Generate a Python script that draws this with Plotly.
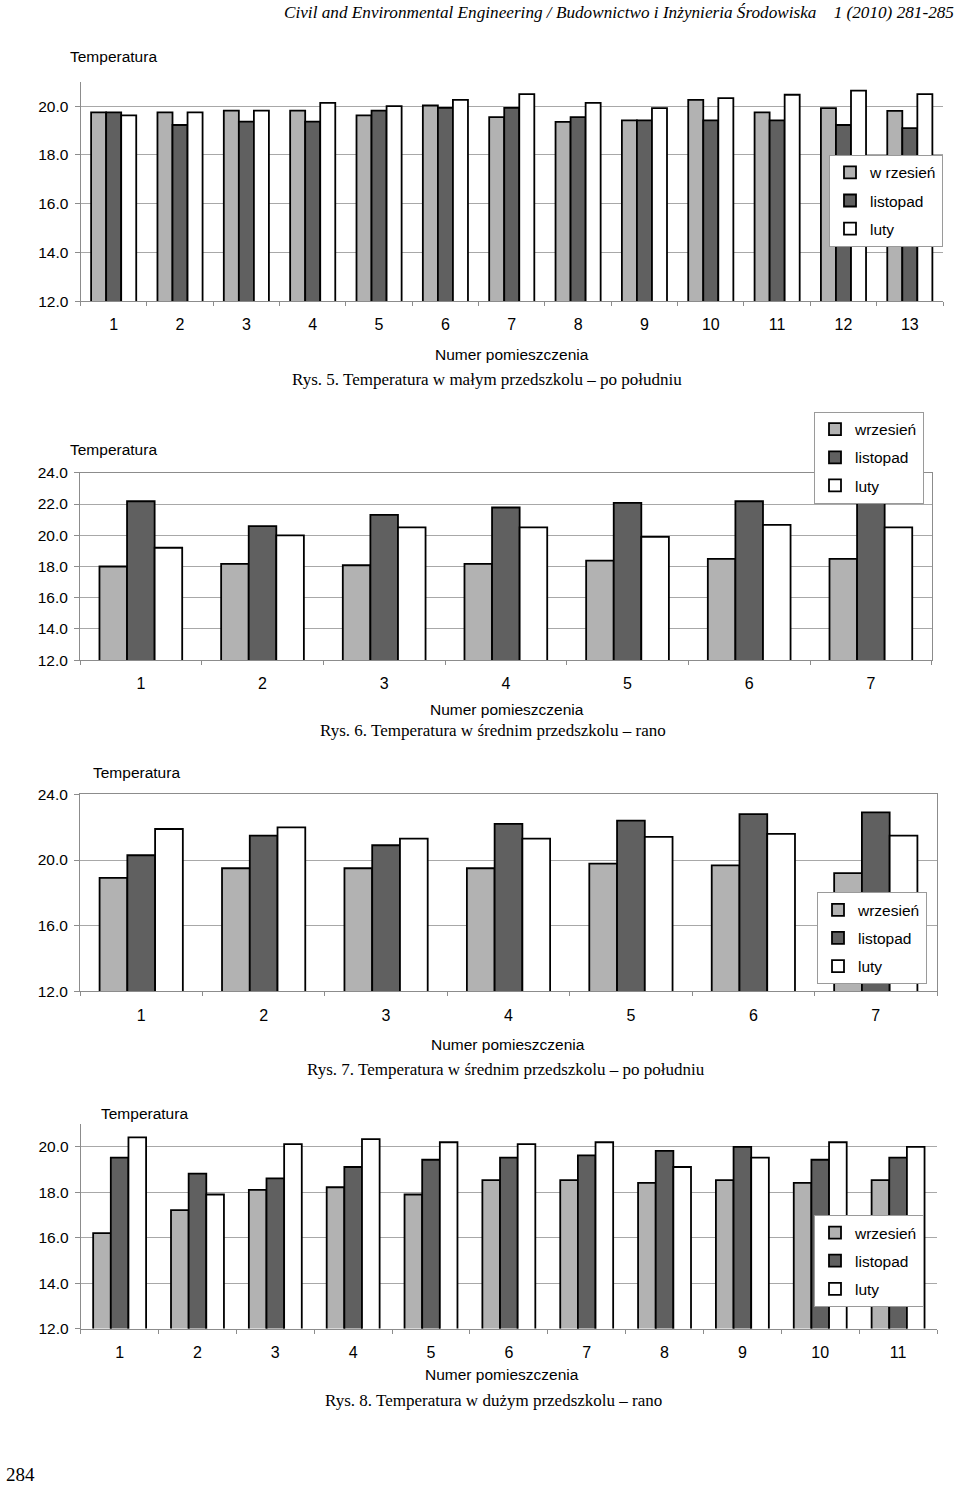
import plotly.graph_objects as go

W, H = 960, 1486

# ---------------- data ----------------
series_names_1 = ["w rzesień", "listopad", "luty"]
series_names = ["wrzesień", "listopad", "luty"]

rooms_5 = ["1", "2", "3", "4", "5", "6", "7", "8", "9", "10", "11", "12", "13"]
rys5_wrzesien = [19.75, 19.75, 19.82, 19.82, 19.62, 20.03, 19.55, 19.36, 19.42, 20.26, 19.75, 19.92, 19.81]
rys5_listopad = [19.75, 19.23, 19.37, 19.37, 19.82, 19.93, 19.93, 19.55, 19.42, 19.42, 19.42, 19.23, 19.10]
rys5_luty     = [19.62, 19.75, 19.82, 20.14, 20.00, 20.26, 20.50, 20.14, 19.92, 20.33, 20.47, 20.64, 20.50]

rooms_6 = ["1", "2", "3", "4", "5", "6", "7"]
rys6_wrzesien = [18.0, 18.17, 18.08, 18.17, 18.38, 18.49, 18.49]
rys6_listopad = [22.18, 20.58, 21.31, 21.78, 22.08, 22.18, 22.4]
rys6_luty     = [19.2, 19.99, 20.5, 20.5, 19.9, 20.67, 20.5]

rooms_7 = ["1", "2", "3", "4", "5", "6", "7"]
rys7_wrzesien = [18.91, 19.5, 19.5, 19.5, 19.78, 19.68, 19.2]
rys7_listopad = [20.29, 21.49, 20.9, 22.2, 22.4, 22.8, 22.9]
rys7_luty     = [21.89, 21.99, 21.3, 21.3, 21.41, 21.59, 21.49]

rooms_8 = ["1", "2", "3", "4", "5", "6", "7", "8", "9", "10", "11"]
rys8_wrzesien = [16.2, 17.21, 18.1, 18.22, 17.9, 18.53, 18.53, 18.41, 18.53, 18.41, 18.53]
rys8_listopad = [19.52, 18.82, 18.61, 19.11, 19.43, 19.52, 19.62, 19.82, 20.0, 19.43, 19.52]
rys8_luty     = [20.41, 17.9, 20.12, 20.34, 20.2, 20.12, 20.2, 19.11, 19.52, 20.2, 20.0]

header_text = "Civil and Environmental Engineering / Budownictwo i Inżynieria Środowiska&nbsp;&nbsp;&nbsp;&nbsp;1 (2010) 281-285"
captions = [
    "Rys. 5. Temperatura w małym przedszkolu – po południu",
    "Rys. 6. Temperatura w średnim przedszkolu – rano",
    "Rys. 7. Temperatura w średnim przedszkolu – po południu",
    "Rys. 8. Temperatura w dużym przedszkolu – rano",
]
y_title = "Temperatura"
x_title = "Numer pomieszczenia"
page_number = "284"

# ---------------- style ----------------
COLORS = ["#b2b2b2", "#606060", "#ffffff"]
SANS = "Liberation Sans, Arial, sans-serif"
SERIF = "Liberation Serif, Times New Roman, serif"
GRID = "#a8a8a8"
AXIS = "#8c8c8c"

# vertical calibration of the page position (pixel -> layout pixel)
VS, VO = 0.9893, 9.2


def py(p):
    return 1 - (p / VS - VO) / H


def px(p):
    return p / W


charts = [
    dict(cats=rooms_5, vals=[rys5_wrzesien, rys5_listopad, rys5_luty], names=series_names_1,
         xdom=[80.5, 943], ydom=[301.5, 82], rng=[12, 21], dtick=2, frame=False,
         leg=(943, 155), ytitle=(68, 57), xtitle=(512, 355), cap=(487, 380)),
    dict(cats=rooms_6, vals=[rys6_wrzesien, rys6_listopad, rys6_luty], names=series_names,
         xdom=[80, 931.7], ydom=[660.7, 473.3], rng=[12, 24], dtick=2, frame=True,
         leg=(924, 412), ytitle=(68, 450), xtitle=(507, 710), cap=(493, 731)),
    dict(cats=rooms_7, vals=[rys7_wrzesien, rys7_listopad, rys7_luty], names=series_names,
         xdom=[80, 937], ydom=[992.3, 795], rng=[12, 24], dtick=4, frame=True,
         leg=(927, 893), ytitle=(91, 773), xtitle=(508, 1045), cap=(506, 1070)),
    dict(cats=rooms_8, vals=[rys8_wrzesien, rys8_listopad, rys8_luty], names=series_names,
         xdom=[80.7, 937], ydom=[1329.7, 1125], rng=[12, 21], dtick=2, frame=False,
         leg=(924, 1216), ytitle=(99, 1114), xtitle=(502, 1376), cap=(493, 1402)),
]

fig = go.Figure()
layout = dict(
    width=W, height=H, margin=dict(l=0, r=0, t=0, b=0),
    paper_bgcolor="white", plot_bgcolor="white",
    barmode="group", bargap=0.32, bargroupgap=0,
    font=dict(family=SANS, size=15, color="black"),
    annotations=[],
)

for i, c in enumerate(charts):
    n = i + 1
    xa = "x" if n == 1 else f"x{n}"
    ya = "y" if n == 1 else f"y{n}"
    leg = "legend" if n == 1 else f"legend{n}"
    for k in range(3):
        fig.add_trace(go.Bar(
            x=c["cats"], y=c["vals"][k], name=c["names"][k],
            xaxis=xa, yaxis=ya, legend=leg, legendgroup=f"c{n}s{k}",
            marker=dict(color=COLORS[k], line=dict(color="black", width=1.8)),
        ))
    layout[f"xaxis{'' if n == 1 else n}"] = dict(
        domain=[px(c["xdom"][0]), px(c["xdom"][1])], anchor=ya, type="category",
        showline=True, linecolor=AXIS, linewidth=1, mirror=c["frame"],
        ticks="outside", tickson="boundaries", ticklen=4, tickcolor=AXIS,
        ticklabelstandoff=9, tickfont=dict(family=SANS, size=16),
        showgrid=False, zeroline=False, fixedrange=True,
    )
    layout[f"yaxis{'' if n == 1 else n}"] = dict(
        domain=[py(c["ydom"][0]), py(c["ydom"][1])], anchor=xa,
        range=c["rng"], tick0=12, dtick=c["dtick"], tickformat=".1f",
        showline=True, linecolor=AXIS, linewidth=1, mirror=c["frame"],
        ticks="outside", ticklen=5, tickcolor=AXIS, ticklabelstandoff=3,
        tickfont=dict(family=SANS, size=15.5),
        showgrid=True, gridcolor=GRID, gridwidth=1, zeroline=False, fixedrange=True,
    )
    layout[leg] = dict(
        x=px(c["leg"][0]), y=py(c["leg"][1]), xanchor="right", yanchor="top",
        bgcolor="white", bordercolor="#9a9a9a", borderwidth=1,
        font=dict(family=SANS, size=15.5), tracegroupgap=5, itemclick=False,
        itemdoubleclick=False,
    )
    layout["annotations"] += [
        dict(text=y_title, x=px(c["ytitle"][0]), y=py(c["ytitle"][1]), xref="paper", yref="paper",
             xanchor="left", yanchor="middle", showarrow=False, font=dict(family=SANS, size=15.5)),
        dict(text=x_title, x=px(c["xtitle"][0]), y=py(c["xtitle"][1]), xref="paper", yref="paper",
             xanchor="center", yanchor="middle", showarrow=False, font=dict(family=SANS, size=15.5)),
        dict(text=captions[i], x=px(c["cap"][0]), y=py(c["cap"][1]), xref="paper", yref="paper",
             xanchor="center", yanchor="middle", showarrow=False, font=dict(family=SERIF, size=17)),
    ]

layout["annotations"] += [
    dict(text="<i>" + header_text + "</i>", x=px(956), y=py(13), xref="paper", yref="paper",
         xanchor="right", yanchor="middle", showarrow=False, font=dict(family=SERIF, size=17.2)),
    dict(text=page_number, x=px(4), y=py(1476), xref="paper", yref="paper",
         xanchor="left", yanchor="middle", showarrow=False, font=dict(family=SERIF, size=19)),
]

fig.update_layout(**layout)
fig.write_html(
    "out.html",
    config={"displayModeBar": False},
    post_script=(
        "document.documentElement.style.margin='0';"
        "document.body.style.margin='0';document.body.style.overflow='hidden';"
        "var gd=document.getElementById('{plot_id}');"
        "gd.style.position='absolute';gd.style.top='0px';gd.style.left='0px';"
    ),
)
